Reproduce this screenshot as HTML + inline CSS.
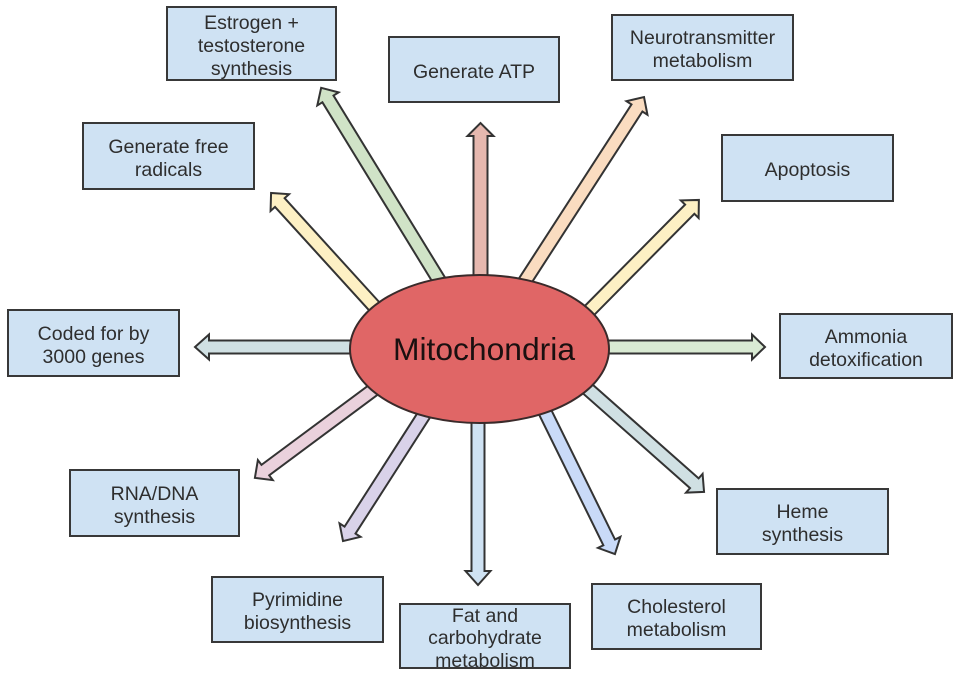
<!DOCTYPE html>
<html>
<head>
<meta charset="utf-8">
<style>
  html, body { margin:0; padding:0; background:#ffffff; }
  body { width:960px; height:676px; position:relative; overflow:hidden; font-family:"Liberation Sans", Arial, sans-serif; }
  svg { position:absolute; left:0; top:0; }
  .box {
    position:absolute; box-sizing:border-box;
    background:#cfe2f3; border:2px solid #383838;
    display:flex; align-items:center; justify-content:center;
    text-align:center; color:#2e2e2e;
    font-size:19.5px; line-height:23px;
    padding-top:5px;
    overflow:visible; white-space:nowrap;
  }
</style>
</head>
<body>
<svg width="960" height="676" viewBox="0 0 960 676" xmlns="http://www.w3.org/2000/svg">
  <g stroke="#333333" stroke-width="2" stroke-linejoin="miter">
    <!-- ATP -->
    <g transform="translate(480.5,295) rotate(-90)">
      <polygon fill="#e6b8af" points="0,-7 159,-7 159,-13 172,0 159,13 159,7 0,7"/>
    </g>
    <!-- Estrogen -->
    <g transform="translate(447.5,294) rotate(-121.5)">
      <polygon fill="#d0e3c7" points="0,-6.5 228.8,-6.5 228.8,-12.5 241.8,0 228.8,12.5 228.8,6.5 0,6.5"/>
    </g>
    <!-- Free radicals -->
    <g transform="translate(386.5,319.8) rotate(-132.3)">
      <polygon fill="#fdf0c4" points="0,-6.5 158.5,-6.5 158.5,-12.5 171.5,0 158.5,12.5 158.5,6.5 0,6.5"/>
    </g>
    <!-- Coded -->
    <g transform="translate(370,347) rotate(180)">
      <polygon fill="#d0e0e3" points="0,-6.5 161,-6.5 161,-12.5 175,0 161,12.5 161,6.5 0,6.5"/>
    </g>
    <!-- RNA/DNA -->
    <g transform="translate(388,379) rotate(143.4)">
      <polygon fill="#ead1dc" points="0,-6.5 152.8,-6.5 152.8,-12.5 165.8,0 152.8,12.5 152.8,6.5 0,6.5"/>
    </g>
    <!-- Pyrimidine -->
    <g transform="translate(432.8,401.2) rotate(122.7)">
      <polygon fill="#d9d2e9" points="0,-6.5 153.2,-6.5 153.2,-12.5 166.2,0 153.2,12.5 153.2,6.5 0,6.5"/>
    </g>
    <!-- Fat -->
    <g transform="translate(478,403) rotate(90)">
      <polygon fill="#cfe2f3" points="0,-6.5 168,-6.5 168,-12.5 182,0 168,12.5 168,6.5 0,6.5"/>
    </g>
    <!-- Cholesterol -->
    <g transform="translate(538.2,398.1) rotate(63.8)">
      <polygon fill="#c9daf8" points="0,-6.5 160.8,-6.5 160.8,-12.5 173.8,0 160.8,12.5 160.8,6.5 0,6.5"/>
    </g>
    <!-- Heme -->
    <g transform="translate(575,377.7) rotate(41.5)">
      <polygon fill="#d0e0e3" points="0,-6.5 159.3,-6.5 159.3,-12.5 172.3,0 159.3,12.5 159.3,6.5 0,6.5"/>
    </g>
    <!-- Ammonia -->
    <g transform="translate(589,347) rotate(0)">
      <polygon fill="#d9ead3" points="0,-6.5 163,-6.5 163,-12.5 176,0 163,12.5 163,6.5 0,6.5"/>
    </g>
    <!-- Apoptosis -->
    <g transform="translate(577.9,322.2) rotate(-45.3)">
      <polygon fill="#fdf0c4" points="0,-6.5 159,-6.5 159,-12.5 172,0 159,12.5 159,6.5 0,6.5"/>
    </g>
    <!-- Neurotransmitter -->
    <g transform="translate(516.1,294.8) rotate(-57.1)">
      <polygon fill="#fadcc0" points="0,-6.5 222.5,-6.5 222.5,-12.5 235.5,0 222.5,12.5 222.5,6.5 0,6.5"/>
    </g>
  </g>
  <ellipse cx="479.5" cy="349" rx="129.5" ry="74" fill="#e06666" stroke="#3a2a2a" stroke-width="2"/>
  <text x="484" y="360" text-anchor="middle" font-family="Liberation Sans, Arial, sans-serif" font-size="31.8" fill="#1a1010">Mitochondria</text>
</svg>

<div class="box" style="left:166px;top:6px;width:171px;height:75px;">Estrogen +<br>testosterone<br>synthesis</div>
<div class="box" style="left:388px;top:36px;width:172px;height:67px;">Generate ATP</div>
<div class="box" style="left:611px;top:14px;width:183px;height:67px;">Neurotransmitter<br>metabolism</div>
<div class="box" style="left:82px;top:122px;width:173px;height:68px;">Generate free<br>radicals</div>
<div class="box" style="left:721px;top:134px;width:173px;height:68px;">Apoptosis</div>
<div class="box" style="left:7px;top:309px;width:173px;height:68px;">Coded for by<br>3000 genes</div>
<div class="box" style="left:779px;top:313px;width:174px;height:66px;">Ammonia<br>detoxification</div>
<div class="box" style="left:69px;top:469px;width:171px;height:68px;">RNA/DNA<br>synthesis</div>
<div class="box" style="left:716px;top:488px;width:173px;height:67px;">Heme<br>synthesis</div>
<div class="box" style="left:211px;top:576px;width:173px;height:67px;">Pyrimidine<br>biosynthesis</div>
<div class="box" style="left:399px;top:603px;width:172px;height:66px;line-height:22.5px;">Fat and<br>carbohydrate<br>metabolism</div>
<div class="box" style="left:591px;top:583px;width:171px;height:67px;">Cholesterol<br>metabolism</div>
</body>
</html>
